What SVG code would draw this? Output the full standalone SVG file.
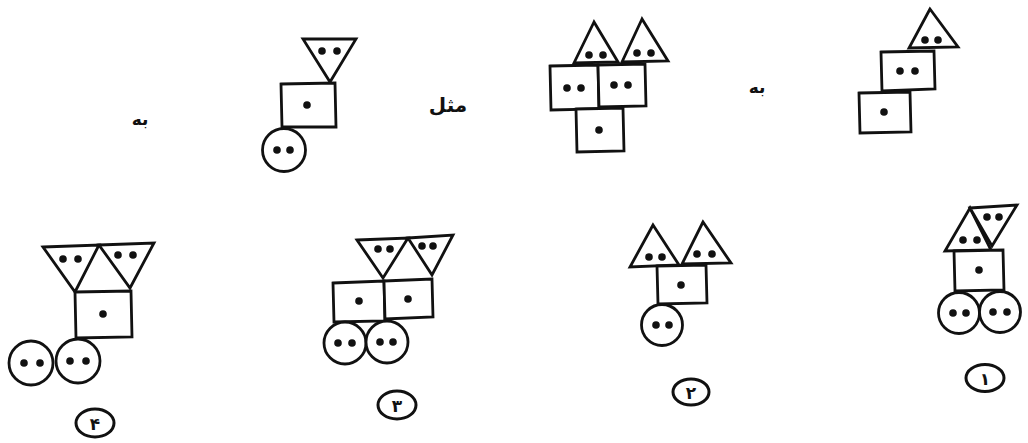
<svg xmlns="http://www.w3.org/2000/svg" width="1028" height="443" viewBox="0 0 1028 443">
<style>
.s{fill:#fff;stroke:#111;stroke-width:2.8;stroke-linejoin:miter}
.d{fill:#111}
.l{fill:none;stroke:#111;stroke-width:3}
.t{font-family:"DejaVu Sans","Noto Sans",sans-serif;fill:#111;font-weight:bold}
</style>
<defs>
<circle id="dot" r="3.8" class="d"/>
</defs>
<rect width="1028" height="443" fill="#fff"/>

<!-- Example right: triangle over two squares -->
<g id="example-a">
<polygon class="s" points="930,9 909,48 958,47"/>
<use href="#dot" x="925" y="40"/><use href="#dot" x="938" y="40"/>
<polygon class="s" points="881,52 934,51 935,89 882,91"/>
<use href="#dot" x="900" y="71"/><use href="#dot" x="915" y="71"/>
<polygon class="s" points="859,93 910,92 911,132 860,133"/>
<use href="#dot" x="884" y="112"/>
</g>
<text class="t" x="757" y="93" font-size="17" text-anchor="middle">به</text>

<!-- Example middle: two triangles, two squares, bottom square -->
<g id="example-b">
<polygon class="s" points="594,22 574,63 618,62"/>
<use href="#dot" x="589" y="55"/><use href="#dot" x="603" y="55"/>
<polygon class="s" points="642,19 622,62 668,61"/>
<use href="#dot" x="637" y="53"/><use href="#dot" x="651" y="53"/>
<polygon class="s" points="550,66 598,65 599,109 551,110"/>
<use href="#dot" x="567" y="88"/><use href="#dot" x="581" y="88"/>
<polygon class="s" points="598,65 645,64 646,106 599,107"/>
<use href="#dot" x="614" y="85"/><use href="#dot" x="628" y="85"/>
<polygon class="s" points="576,109 623,108 624,151 577,152"/>
<use href="#dot" x="599" y="130"/>
</g>
<text class="t" x="448" y="112" font-size="20" text-anchor="middle">مثل</text>

<!-- Example left: inverted triangle, square, circle -->
<g id="example-c">
<polygon class="s" points="303,39 356,39 330,82"/>
<use href="#dot" x="322" y="51"/><use href="#dot" x="337" y="51"/>
<polygon class="s" points="281,84 335,83 336,127 282,127"/>
<use href="#dot" x="307" y="105"/>
<circle class="s" cx="284" cy="150" r="21.5"/>
<use href="#dot" x="277" y="150"/><use href="#dot" x="290" y="150"/>
</g>
<text class="t" x="140" y="125" font-size="17" text-anchor="middle">به</text>

<!-- Option 1 -->
<g id="option-1">
<polygon class="s" points="970,208 945,251 991,250"/>
<use href="#dot" x="963" y="240"/><use href="#dot" x="977" y="240"/>
<polygon class="s" points="970,208 1017,205 992,246"/>
<use href="#dot" x="987" y="217"/><use href="#dot" x="999" y="217"/>
<polygon class="s" points="954,251 1003,250 1004,290 955,291"/>
<use href="#dot" x="979" y="270"/>
<circle class="s" cx="959" cy="313" r="20.5"/>
<use href="#dot" x="953" y="313"/><use href="#dot" x="966" y="313"/>
<circle class="s" cx="1000" cy="312" r="20.5"/>
<use href="#dot" x="993" y="312"/><use href="#dot" x="1007" y="312"/>
<ellipse class="l" cx="985" cy="378" rx="19" ry="13.5"/>
<text class="t" x="985" y="385" font-size="17" text-anchor="middle">۱</text>
</g>

<!-- Option 2 -->
<g id="option-2">
<polygon class="s" points="653,225 630,267 679,265"/>
<use href="#dot" x="649" y="257"/><use href="#dot" x="662" y="257"/>
<polygon class="s" points="703,222 682,264 731,263"/>
<use href="#dot" x="697" y="254"/><use href="#dot" x="712" y="254"/>
<polygon class="s" points="657,266 706,265 707,303 658,304"/>
<use href="#dot" x="681" y="285"/>
<circle class="s" cx="662" cy="325" r="20.5"/>
<use href="#dot" x="656" y="325"/><use href="#dot" x="669" y="325"/>
<ellipse class="l" cx="691" cy="392" rx="18" ry="13"/>
<text class="t" x="691" y="399" font-size="17" text-anchor="middle">۲</text>
</g>

<!-- Option 3 -->
<g id="option-3">
<polygon class="s" points="357,240 408,238 383,278"/>
<use href="#dot" x="378" y="249"/><use href="#dot" x="390" y="249"/>
<polygon class="s" points="408,238 453,235 432,275"/>
<use href="#dot" x="422" y="246"/><use href="#dot" x="433" y="246"/>
<polygon class="s" points="333,283 384,281 385,321 334,322"/>
<use href="#dot" x="359" y="301"/>
<polygon class="s" points="384,281 432,279 433,317 385,319"/>
<use href="#dot" x="408" y="299"/>
<circle class="s" cx="345" cy="343" r="21"/>
<use href="#dot" x="338" y="343"/><use href="#dot" x="352" y="343"/>
<circle class="s" cx="387" cy="342" r="21"/>
<use href="#dot" x="380" y="342"/><use href="#dot" x="393" y="342"/>
<ellipse class="l" cx="397" cy="405" rx="19" ry="14"/>
<text class="t" x="397" y="412" font-size="17" text-anchor="middle">۳</text>
</g>

<!-- Option 4 -->
<g id="option-4">
<polygon class="s" points="43,247 99,245 75,292"/>
<use href="#dot" x="63" y="259"/><use href="#dot" x="78" y="259"/>
<polygon class="s" points="99,245 154,243 130,288"/>
<use href="#dot" x="118" y="255"/><use href="#dot" x="133" y="255"/>
<polygon class="s" points="75,292 131,291 132,337 76,338"/>
<use href="#dot" x="103" y="314"/>
<circle class="s" cx="31" cy="363" r="22"/>
<use href="#dot" x="24" y="363"/><use href="#dot" x="40" y="363"/>
<circle class="s" cx="78" cy="361" r="22"/>
<use href="#dot" x="70" y="361"/><use href="#dot" x="86" y="361"/>
<ellipse class="l" cx="95" cy="423" rx="19" ry="14"/>
<text class="t" x="95" y="430" font-size="17" text-anchor="middle">۴</text>
</g>
</svg>
